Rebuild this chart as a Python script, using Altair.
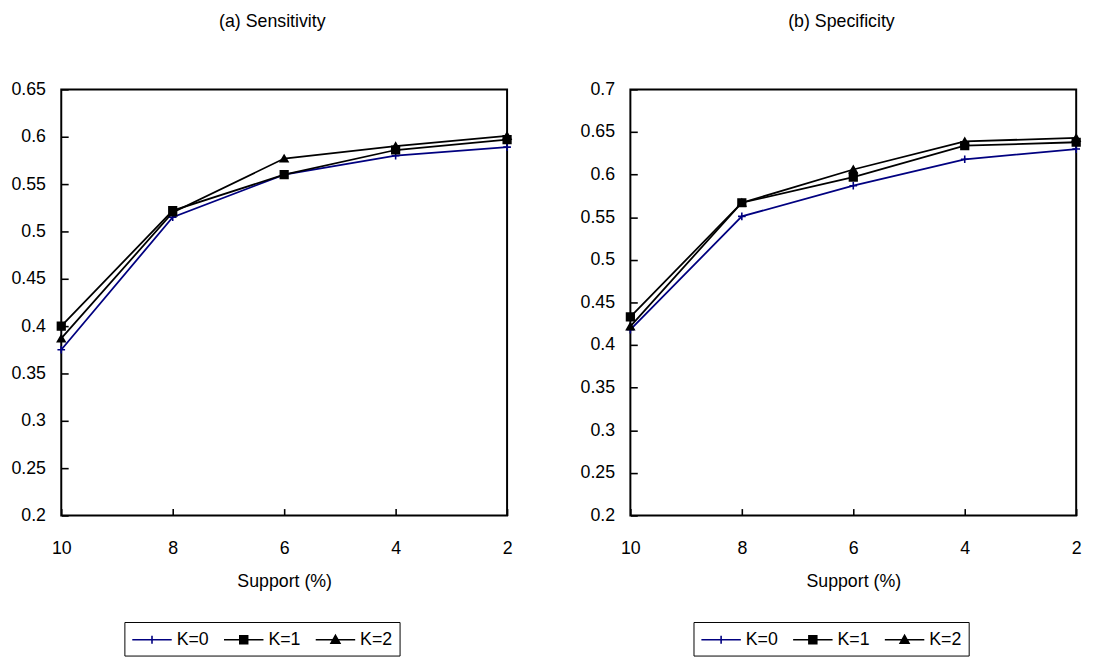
import altair as alt
import pandas as pd

support = [10, 8, 6, 4, 2]
k_labels = ["K=0", "K=1", "K=2"]

sens_k0 = [0.375, 0.515, 0.560, 0.580, 0.589]
sens_k1 = [0.400, 0.522, 0.560, 0.586, 0.597]
sens_k2 = [0.387, 0.520, 0.577, 0.590, 0.601]

spec_k0 = [0.418, 0.551, 0.587, 0.618, 0.630]
spec_k1 = [0.433, 0.567, 0.597, 0.634, 0.638]
spec_k2 = [0.422, 0.567, 0.606, 0.639, 0.643]

sens_ticks = [0.2, 0.25, 0.3, 0.35, 0.4, 0.45, 0.5, 0.55, 0.6, 0.65]
spec_ticks = [0.2, 0.25, 0.3, 0.35, 0.4, 0.45, 0.5, 0.55, 0.6, 0.65, 0.7]

colors = ["#000080", "#000000", "#000000"]
marker_shapes = ["M-1,0H1M0,-1V1", "square", "triangle-up"]
# legend symbols: unit = 10px; line spans 40px, marker at its centre
legend_shapes = [
    "M-1,0H3M1,-0.4V0.4",
    "M-1,0H3M0.6,-0.4H1.4V0.4H0.6Z",
    "M-1,0H3M1,-0.45L1.45,0.35H0.55Z",
]

W, H = 452, 432
FONT = "Liberation Sans, Arial, sans-serif"


def make_df(series):
    rows = []
    for k, vals in zip(k_labels, series):
        for s, v in zip(support, vals):
            rows.append({"support": s, "value": v, "K": k})
    return pd.DataFrame(rows)


def panel(series, ticks, title):
    df = make_df(series)
    ymin, ymax = ticks[0], ticks[-1]
    base = alt.Chart(df)
    xscale = alt.Scale(domain=[2, 10], reverse=True, nice=False)
    yscale = alt.Scale(domain=[ymin, ymax], nice=False, zero=False)

    lines = base.mark_line(strokeWidth=1.8).encode(
        x=alt.X("support:Q", scale=xscale,
                axis=alt.Axis(values=support, format="d", ticks=False, tickSize=0,
                              domain=False, grid=False, labelPadding=25, labelFlush=False,
                              title="Support (%)", titlePadding=15)),
        y=alt.Y("value:Q", scale=yscale,
                axis=alt.Axis(values=ticks, format=".2~f", ticks=False, tickSize=0,
                              domain=False, grid=False, labelPadding=16, title=None)),
        stroke=alt.Stroke("K:N", scale=alt.Scale(domain=k_labels, range=colors), legend=None),
        detail="K:N",
    )

    points = base.mark_point(filled=True, opacity=1, size=60, strokeWidth=1.6).encode(
        x=alt.X("support:Q", scale=xscale,
                axis=alt.Axis(orient="top", offset=-H, values=support, labels=False,
                              tickSize=7, tickWidth=1.6, tickColor="black",
                              domain=False, grid=False, title=None)),
        y=alt.Y("value:Q", scale=yscale,
                axis=alt.Axis(orient="right", offset=-W, values=ticks, labels=False,
                              tickSize=7, tickWidth=1.6, tickColor="black",
                              domain=False, grid=False, title=None)),
        shape=alt.Shape("K:N", scale=alt.Scale(domain=k_labels, range=marker_shapes), legend=None),
        fill=alt.Fill("K:N", scale=alt.Scale(domain=k_labels, range=colors), legend=None),
        stroke=alt.Stroke("K:N", scale=alt.Scale(domain=k_labels, range=colors), legend=None),
    )

    leg = alt.Legend(
        title=None, orient="none", legendX=64, legendY=540, direction="horizontal",
        strokeColor="black", padding=7, symbolSize=400, symbolStrokeWidth=1.6,
        labelFontSize=18, labelFont=FONT, labelColor="black", labelOffset=24,
        columnPadding=11, symbolOpacity=1,
    )
    legend_layer = base.mark_point(filled=True, opacity=1, size=400, strokeWidth=1.6).encode(
        shape=alt.Shape("K:N", scale=alt.Scale(domain=k_labels, range=legend_shapes), legend=leg),
        fill=alt.Fill("K:N", scale=alt.Scale(domain=k_labels, range=colors), legend=leg),
        stroke=alt.Stroke("K:N", scale=alt.Scale(domain=k_labels, range=colors), legend=leg),
    ).transform_filter("false")

    return alt.layer(lines, points, legend_layer).resolve_scale(
        shape="independent", fill="independent", stroke="independent"
    ).resolve_axis(x="independent", y="independent").properties(
        width=W, height=H,
        title=alt.TitleParams(title, fontSize=18, font=FONT, dx=-12,
                              fontWeight="normal", color="black", offset=50, anchor="middle"),
    )


left = panel([sens_k0, sens_k1, sens_k2], sens_ticks, "(a) Sensitivity")
right = panel([spec_k0, spec_k1, spec_k2], spec_ticks, "(b) Specificity")

chart = alt.hconcat(left, right, spacing=63).resolve_scale(
    shape="independent", fill="independent", stroke="independent"
).properties(
    padding={"left": 1, "top": 0, "right": 5, "bottom": 0}
).configure(background="white").configure_view(
    stroke="black", strokeWidth=2
).configure_axis(
    labelFont=FONT, titleFont=FONT, labelFontSize=18, titleFontSize=18,
    labelColor="black", titleColor="black", titleFontWeight="normal",
)

chart.save("out.html", embed_options={"renderer": "svg", "actions": False})
